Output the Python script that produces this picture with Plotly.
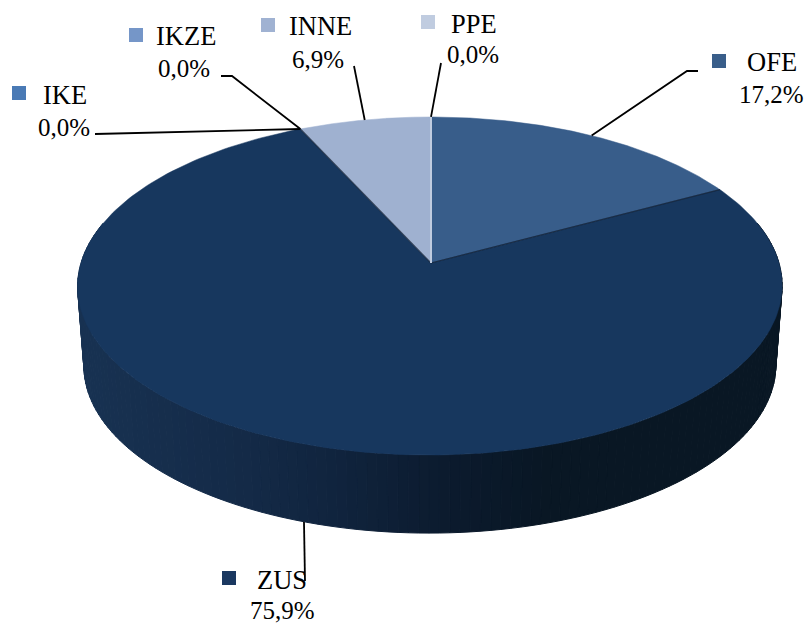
import numpy as np
import plotly.graph_objects as go

# ---- data ----
categories = ["OFE", "ZUS", "IKE", "IKZE", "INNE", "PPE"]
values = [17.2, 75.9, 0.0, 0.0, 6.9, 0.0]
top_colors = ["#385d8a", "#17375e", "#4a7ab5", "#7596c8", "#9fb1d0", "#c0cce0"]
legend_colors = ["#395e8a", "#1a3860", "#4a7ab5", "#7596c8", "#a0b2d2", "#c0cce0"]

# ---- page layout of the labels (pixel axes) ----
name_xy = {"OFE": (772, 62), "ZUS": (282, 580), "IKE": (65, 95),
           "IKZE": (186, 36), "INNE": (320, 26), "PPE": (474, 24)}
value_xy = {"OFE": (771, 94), "ZUS": (282, 610), "IKE": (64, 127),
            "IKZE": (184, 68), "INNE": (318, 59), "PPE": (473, 54)}
square_xy = {"OFE": (719, 61), "ZUS": (229, 578), "IKE": (19, 93),
             "IKZE": (136, 35), "INNE": (268, 25), "PPE": (428, 22)}
leader_via = {"OFE": [(698, 71), (687, 71)], "ZUS": [(305, 581)], "IKE": [(95, 134)],
              "IKZE": [(221, 76), (232, 76)], "INNE": [(354, 66)], "PPE": [(441, 63)]}

# ---- perspective of the tilted disc ----
CX, CY, R, S, K = 431.0, 263.0, 349.0, 165.9, 0.136
DEPTH, X_SHRINK, Y_SHRINK = 80.0, 0.982, 0.99
DRIFT = 1.0


def top(theta):
    u, v = np.sin(theta), np.cos(theta)
    w = 1 + K * v
    return CX + R * u / w - DRIFT * (1 - v), CY - S * v / w


def bottom(theta):
    x, y = top(theta)
    return CX + (x - CX) * X_SHRINK, CY + DEPTH + (y - CY) * Y_SHRINK


def to_theta(pct):
    return 2 * np.pi * np.asarray(pct, dtype=float) / 100.0


wall_stops_x = [85, 250, 350, 450, 550, 800]
wall_stops_rgb = [(24, 50, 82), (20, 42, 71), (16, 35, 60), (12, 27, 46), (9, 23, 36), (9, 23, 36)]


def wall_color(x):
    return "rgb(%d,%d,%d)" % tuple(
        np.interp(x, wall_stops_x, [c[i] for c in wall_stops_rgb]) for i in range(3))


fig = go.Figure()

# side wall, drawn in narrow strips
edges = np.linspace(np.pi / 2 - 0.25, 3 * np.pi / 2 + 0.25, 141)
for a, b in zip(edges[:-1], edges[1:]):
    xa, ya = top(a); xb, yb = top(b)
    xc, yc = bottom(b); xd, yd = bottom(a)
    col = wall_color((xa + xb) / 2)
    fig.add_trace(go.Scatter(x=[xa, xb, xc, xd, xa], y=[ya, yb, yc, yd, ya], mode="lines",
                             fill="toself", fillcolor=col, line=dict(color=col, width=1),
                             hoverinfo="skip", showlegend=False))

# top face slices
cum = np.concatenate([[0], np.cumsum(values)])
for i, (cat, val) in enumerate(zip(categories, values)):
    if val <= 0:
        continue
    t = np.linspace(to_theta(cum[i]), to_theta(cum[i + 1]), 240)
    ex, ey = top(t)
    fig.add_trace(go.Scatter(x=np.r_[CX, ex, CX], y=np.r_[CY, ey, CY], mode="lines", fill="toself",
                             fillcolor=top_colors[i], line=dict(color=top_colors[i], width=0.5),
                             name=cat, hoverinfo="skip", showlegend=False))

# slice boundaries
for i in (1, 4):
    ex, ey = top(to_theta(cum[i]))
    fig.add_trace(go.Scatter(x=[CX, ex], y=[CY, ey], mode="lines",
                             line=dict(color="rgba(20,35,55,0.75)", width=1.2),
                             hoverinfo="skip", showlegend=False))
ex, ey = top(to_theta(0))
fig.add_trace(go.Scatter(x=[CX, ex], y=[CY, ey], mode="lines", line=dict(color=top_colors[5], width=2),
                         hoverinfo="skip", showlegend=False))

# leader lines and labels
for i, cat in enumerate(categories):
    mid = to_theta((cum[i] + cum[i + 1]) / 2)
    ax, ay = bottom(mid) if np.cos(mid) < 0 else top(mid)
    pts = list(leader_via[cat]) + [(float(ax), float(ay))]
    fig.add_trace(go.Scatter(x=[p[0] for p in pts], y=[p[1] for p in pts], mode="lines",
                             line=dict(color="#000000", width=1.8), hoverinfo="skip", showlegend=False))
    fig.add_trace(go.Scatter(x=[square_xy[cat][0]], y=[square_xy[cat][1]], mode="markers",
                             marker=dict(symbol="square", size=14, color=legend_colors[i]),
                             hoverinfo="skip", showlegend=False))
    fig.add_annotation(x=name_xy[cat][0], y=name_xy[cat][1], text=cat, showarrow=False,
                       xanchor="center", yanchor="middle",
                       font=dict(family="Liberation Serif", size=26.5, color="#000000"))
    fig.add_annotation(x=value_xy[cat][0], y=value_xy[cat][1],
                       text=f"{values[i]:.1f}".replace(".", ",") + "%", showarrow=False,
                       xanchor="center", yanchor="middle",
                       font=dict(family="Liberation Serif", size=25, color="#000000"))

fig.update_layout(
    width=806, height=623, margin=dict(l=0, r=0, t=0, b=0),
    paper_bgcolor="#ffffff", plot_bgcolor="#ffffff", showlegend=False,
    xaxis=dict(range=[0, 806], visible=False, fixedrange=True),
    yaxis=dict(range=[623, 0], visible=False, fixedrange=True),
)
fig.write_html("out.html", config={"displayModeBar": False},
               post_script="document.body.style.margin='0';")
